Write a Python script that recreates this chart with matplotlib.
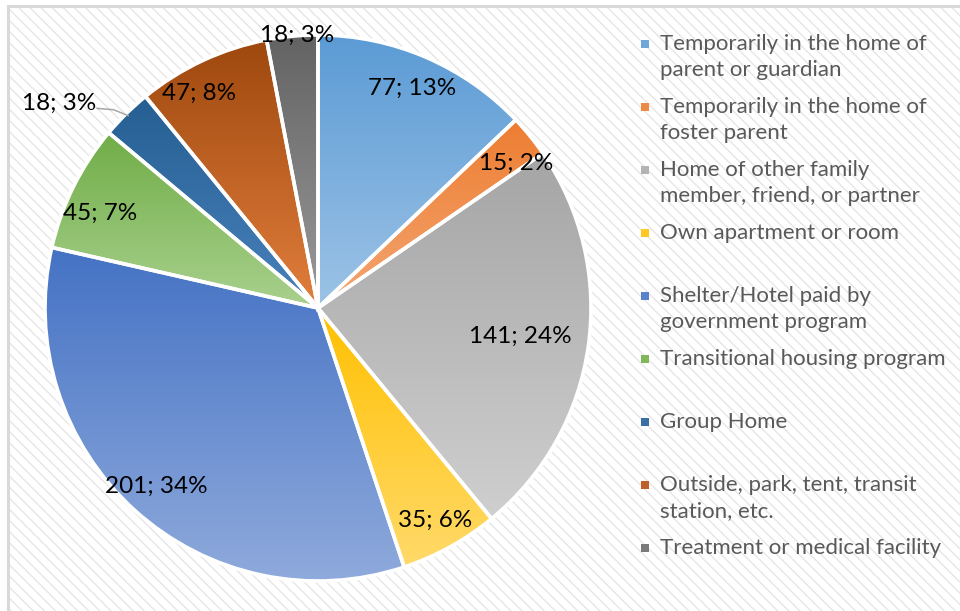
import numpy as np
import matplotlib
matplotlib.use('Agg')
import matplotlib.pyplot as plt
from matplotlib.patches import Rectangle
from matplotlib.colors import LinearSegmentedColormap

categories = ['Temporarily in the home of\nparent or guardian',
              'Temporarily in the home of\nfoster parent',
              'Home of other family\nmember, friend, or partner',
              'Own apartment or room',
              'Shelter/Hotel paid by\ngovernment program',
              'Transitional housing program',
              'Group Home',
              'Outside, park, tent, transit\nstation, etc.',
              'Treatment or medical facility']
counts = [77, 15, 141, 35, 201, 45, 18, 47, 18]
pct_labels = ['13%', '2%', '24%', '6%', '34%', '7%', '3%', '8%', '3%']
# gradient fill: colour at top of each slice and at its bottom
top_colors = ['#5B9BD5', '#ED7D31', '#A5A5A5', '#FFC000', '#4472C4',
              '#70AD47', '#255E91', '#9E480E', '#636363']
bottom_colors = ['#9DC3E6', '#F4A672', '#CFCFCF', '#FFDA6A', '#8FAADC',
                 '#A9D18E', '#4A83BD', '#E17E3C', '#9A9A9A']
legend_colors = ['#6FA7DA', '#EF8A46', '#B3B3B3', '#FFC824', '#5A82CB',
                 '#80B75C', '#3A70A4', '#C0602A', '#7A7A7A']

# label placement (radius as fraction of pie radius, angle nudge in degrees)
label_r = [0.875, 0.90, 0.75, 0.89, 0.88, 0.87, 1.21, 0.90, 1.0]
label_dang = [0, -3, 0, 0, 0, 3, 7, 4, -1]


def main():
    plt.rcParams['font.family'] = ['Lato', 'DejaVu Sans']
    plt.rcParams['hatch.linewidth'] = 1.0
    fig = plt.figure(figsize=(9.6, 6.11), dpi=100)

    # hatched chart background with thin frame
    fig.patches.append(Rectangle((8 / 960, -0.1), 1.2, 1.1 - 6 / 611, transform=fig.transFigure,
                                 facecolor='white', edgecolor='#d9d9d9', lw=2.2, zorder=-3))
    fig.patches.append(Rectangle((10 / 960, -0.1), 1.2, 1.1 - 8 / 611, transform=fig.transFigure,
                                 facecolor='none', edgecolor='#e6e6e6', lw=0, hatch='\\\\\\', zorder=-2))

    cx, cy, r = 318, 308, 273
    ax = fig.add_axes([(cx - r) / 960, (611 - cy - r) / 611, 2 * r / 960, 2 * r / 611])
    wedges, _ = ax.pie(counts, startangle=90, counterclock=False, radius=1,
                       wedgeprops=dict(edgecolor='white', linewidth=2.6, zorder=3))

    grad = np.linspace(0, 1, 256)[:, None]
    for w, c0, c1 in zip(wedges, top_colors, bottom_colors):
        w.set_facecolor('none')
        ext = w.get_path().get_extents()
        cmap = LinearSegmentedColormap.from_list('g', [c0, c1])
        im = ax.imshow(grad, cmap=cmap, extent=(ext.x0, ext.x1, ext.y0, ext.y1),
                       origin='upper', aspect='auto', zorder=1, interpolation='bilinear')
        im.set_clip_path(w)

    total = sum(counts)
    cum = np.cumsum([0] + counts)
    for i, w in enumerate(wedges):
        mid = 90 - 360 * (cum[i] + counts[i] / 2) / total
        ang = np.deg2rad(mid + label_dang[i])
        x, y = label_r[i] * np.cos(ang), label_r[i] * np.sin(ang)
        ax.text(x, y, '%d; %s' % (counts[i], pct_labels[i]), ha='center', va='center',
                fontsize=17.5, color='black', zorder=5)
        if label_r[i] > 1.1:
            # leader line from the right end of the label to the slice edge
            a1 = np.deg2rad(mid)
            ex, ey = 0.99 * np.cos(a1), 0.99 * np.sin(a1)
            ax.plot([x + 0.14, x + 0.2, ex], [y - 0.02, y - 0.025, ey],
                    color='#a6a6a6', lw=1.1, zorder=4)

    ax.set_xlim(-1, 1)
    ax.set_ylim(-1, 1)
    ax.set_aspect('equal')
    ax.axis('off')

    # legend drawn by hand: fixed slots, text top aligned
    slot_y = 44
    for lab, col in zip(categories, legend_colors):
        yf = 1 - slot_y / 611
        fig.patches.append(Rectangle((641 / 960, yf - 4 / 611), 8 / 960, 8 / 611,
                                     transform=fig.transFigure, facecolor=col,
                                     edgecolor='none', zorder=3))
        fig.text(660 / 960, yf + 10 / 611, lab, ha='left', va='top', fontsize=16,
                 color='#595959', linespacing=1.36)
        slot_y += 63

    fig.savefig('out.png', dpi=100)


if __name__ == '__main__':
    main()
